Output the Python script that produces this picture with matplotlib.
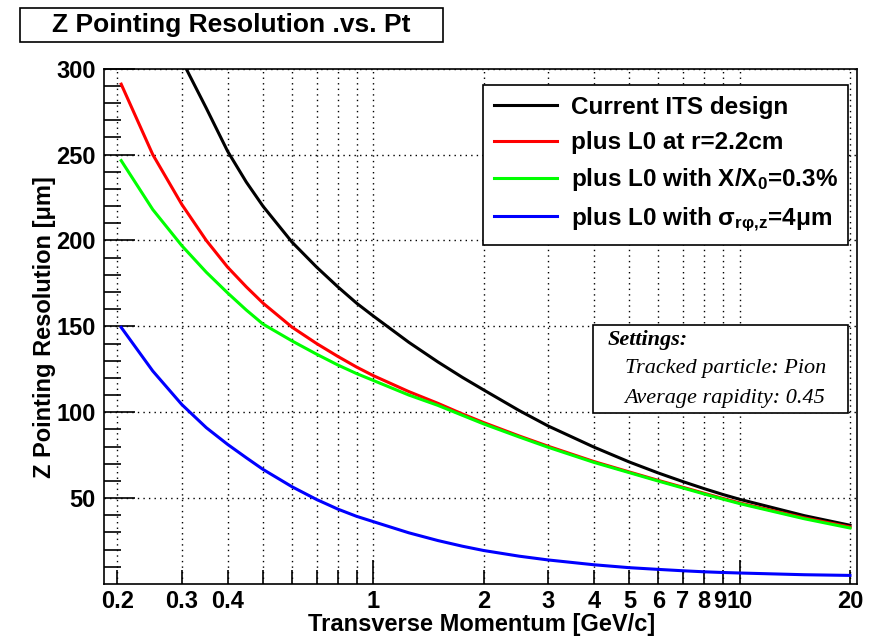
import matplotlib
matplotlib.use("Agg")
import matplotlib.pyplot as plt
from matplotlib.patches import Rectangle
from matplotlib.transforms import ScaledTranslation
from matplotlib.ticker import FixedLocator, FixedFormatter, NullFormatter

plt.rcParams['font.family'] = ['Liberation Sans', 'DejaVu Sans']
plt.rcParams['font.weight'] = 'bold'
plt.rcParams['mathtext.fontset'] = 'custom'
plt.rcParams['mathtext.rm'] = 'Liberation Sans:bold'
plt.rcParams['mathtext.it'] = 'Liberation Sans:bold'
plt.rcParams['mathtext.bf'] = 'Liberation Sans:bold'

# pointing resolution (um) vs transverse momentum (GeV/c)
pt_black = [0.3, 0.35, 0.4, 0.45, 0.5, 0.6, 0.7, 0.8, 0.9, 1, 1.25, 1.5, 1.75, 2, 2.5, 3,
            4, 5, 6, 7, 8, 9, 10, 15, 20]
res_black = [305, 277, 252, 234, 219.9, 199, 184.5, 173, 163.5, 156, 140.7, 129.3, 120.3, 113,
             101, 92, 79.7, 71, 64.6, 59.6, 55.5, 52.1, 49.3, 39.8, 34.2]

pt_l0 = [0.205, 0.25, 0.3, 0.35, 0.4, 0.45, 0.5, 0.6, 0.7, 0.8, 0.9, 1, 1.25, 1.5, 1.75, 2,
         2.5, 3, 4, 5, 6, 7, 8, 9, 10, 15, 20]
res_red = [291, 250, 221, 200, 184.5, 173, 163.5, 149.5, 140, 132.5, 126.3, 121.3, 112, 105.2,
           99, 94, 86.2, 80.2, 71.3, 65.2, 60.3, 56.3, 52.8, 49.8, 47.2, 38.5, 33.2]
res_green = [246.5, 218, 197, 181.5, 169.5, 159.5, 151.3, 141.5, 133.8, 127.5, 122.5, 118.5,
             110, 104, 98.2, 93.2, 85.6, 79.6, 70.8, 64.8, 59.9, 55.9, 52.4, 49.4, 46.8, 38,
             32.6]
res_blue = [149.4, 124, 104.5, 91, 81.3, 73.5, 66.7, 56.6, 49.2, 43.6, 39.4, 36.3, 29.8, 25.3,
            22.0, 19.5, 16.2, 14, 11.2, 9.5, 8.5, 7.7, 7.1, 6.7, 6.4, 5.4, 5.0]

labels = ["Current ITS design", "plus L0 at r=2.2cm",
          "plus L0 with X/X$_{0}$=0.3%", r"plus L0 with $σ_{rφ,\!z}$=4μm"]

xtick_vals = [0.2, 0.3, 0.4, 0.5, 0.6, 0.7, 0.8, 0.9, 2, 3, 4, 5, 6, 7, 8, 9, 20]
xtick_txt = ["0.2", "0.3", "0.4", "", "", "", "", "", "2", "3", "4", "5", "6", "7", "8", "9", "20"]

W, H = 872, 637
fig = plt.figure(figsize=(W / 100, H / 100), dpi=100)
ax = fig.add_axes([104 / W, 1 - 584 / H, (857 - 104) / W, (584 - 68.7) / H])

lw = 2.2
l1, = ax.plot(pt_black, res_black, color='black', lw=lw)
l2, = ax.plot(pt_l0, res_red, color='#ff0000', lw=lw)
l3, = ax.plot(pt_l0, res_green, color='#00ff00', lw=lw)
l4, = ax.plot(pt_l0, res_blue, color='#0000ff', lw=lw)

ax.set_xscale('log')
ax.set_xlim(0.184, 20.9)
ax.set_ylim(0, 300)

# ticks
ax.xaxis.set_major_locator(FixedLocator([1, 10]))
ax.xaxis.set_major_formatter(FixedFormatter(["1", "10"]))
ax.xaxis.set_minor_locator(FixedLocator(xtick_vals))
ax.xaxis.set_minor_formatter(FixedFormatter(xtick_txt))
ax.yaxis.set_major_locator(FixedLocator([50, 100, 150, 200, 250, 300]))
ax.yaxis.set_minor_locator(FixedLocator([v for v in range(10, 300, 10) if v % 50]))
ax.yaxis.set_minor_formatter(NullFormatter())

ax.tick_params(axis='both', which='both', direction='in', top=False, right=False,
               width=1.2, labelsize=17)
ax.tick_params(axis='x', which='major', length=17, pad=4)
ax.tick_params(axis='x', which='minor', length=10, pad=4)
ax.tick_params(axis='y', which='major', length=22, pad=6)
ax.tick_params(axis='y', which='minor', length=12)

# "9" and "10" sit very close together, nudge them apart a little
for tick, txt in zip(ax.xaxis.get_minor_ticks(), xtick_txt):
    if txt == "9":
        tick.label1.set_transform(tick.label1.get_transform() +
                                  ScaledTranslation(-3 / 100, 0, fig.dpi_scale_trans))
for tick in ax.xaxis.get_major_ticks():
    if tick.get_loc() == 10:
        tick.label1.set_transform(tick.label1.get_transform() +
                                  ScaledTranslation(1 / 100, 0, fig.dpi_scale_trans))

for s in ax.spines.values():
    s.set_linewidth(1.2)

grid_kw = dict(color='black', linestyle=(0, (1, 3)), linewidth=1.0)
ax.grid(True, which='major', axis='both', **grid_kw)
ax.grid(True, which='minor', axis='x', **grid_kw)
ax.set_axisbelow(True)

# axis titles
fig.text(482 / W, 1 - 625 / H, "Transverse Momentum [GeV/c]", ha='center', va='center',
         fontsize=17, fontweight='bold')
fig.text(45 / W, 1 - 327 / H, "Z Pointing Resolution [μm]", ha='center', va='center',
         rotation=90, fontsize=17, fontweight='bold')

# title box
fig.patches.append(Rectangle((20 / W, 1 - 42 / H), 423 / W, 34 / H, transform=fig.transFigure,
                             facecolor='white', edgecolor='black', lw=1.2))
fig.text(231.5 / W, 1 - 25 / H, "Z Pointing Resolution .vs. Pt", ha='center', va='center',
         fontsize=19, fontweight='bold')

# legend
leg = ax.legend([l1, l2, l3, l4], labels, loc='upper left',
                bbox_to_anchor=((483 - 104) / 753, (584 - 85) / 515.3),
                fontsize=17.5, frameon=True, fancybox=False, shadow=False, framealpha=1,
                handlelength=2.6, handletextpad=0.55, labelspacing=0.5,
                borderpad=0.45, borderaxespad=0)
leg.get_frame().set_edgecolor('black')
leg.get_frame().set_linewidth(1.2)
for t in leg.get_texts():
    t.set_fontweight('bold')

# settings box
fig.patches.append(Rectangle((593 / W, 1 - 413 / H), 255 / W, 88 / H, transform=fig.transFigure,
                             facecolor='white', edgecolor='black', lw=1.2, zorder=5))
serif = ['Liberation Serif', 'DejaVu Serif']
fig.text(608 / W, 1 - 340 / H, "Settings:", ha='left', va='center', fontsize=16,
         family=serif, style='italic', fontweight='bold', zorder=6)
fig.text(625 / W, 1 - 369 / H, "Tracked particle: Pion", ha='left', va='center', fontsize=16,
         family=serif, style='italic', fontweight='normal', zorder=6)
fig.text(624 / W, 1 - 398 / H, "Average rapidity: 0.45", ha='left', va='center', fontsize=16,
         family=serif, style='italic', fontweight='normal', zorder=6)

fig.savefig("out.png", dpi=100)
